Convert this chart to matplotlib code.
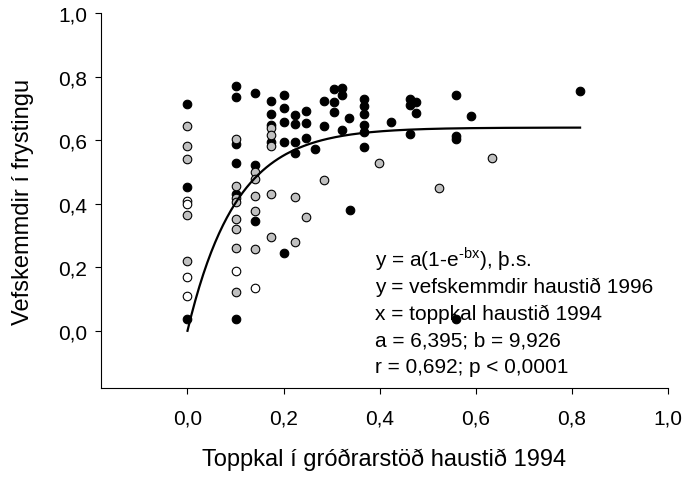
import numpy as np
import matplotlib
matplotlib.use("Agg")
import matplotlib.pyplot as plt

plt.rcParams["font.family"] = ["Liberation Sans", "DejaVu Sans"]
plt.rcParams["mathtext.fontset"] = "custom"
plt.rcParams["mathtext.rm"] = "Liberation Sans"

# black dots
black_x = [0.0, 0.0, 0.0,
           0.1, 0.1, 0.1, 0.1, 0.1, 0.1,
           0.14, 0.14, 0.14,
           0.173, 0.173, 0.173, 0.173,
           0.2, 0.2, 0.2, 0.2, 0.2,
           0.224, 0.224, 0.224, 0.224,
           0.247, 0.247, 0.247,
           0.266,
           0.285, 0.285,
           0.304, 0.304, 0.304,
           0.321, 0.321, 0.321,
           0.336, 0.3375,
           0.368, 0.368, 0.368, 0.368, 0.368, 0.368,
           0.424,
           0.463, 0.463, 0.463,
           0.476, 0.476,
           0.558, 0.558, 0.558, 0.558,
           0.591,
           0.817]
black_y = [0.715, 0.454, 0.036,
           0.770, 0.735, 0.588, 0.528, 0.431, 0.036,
           0.747, 0.522, 0.346,
           0.722, 0.683, 0.649, 0.593,
           0.742, 0.702, 0.656, 0.593, 0.246,
           0.679, 0.650, 0.595, 0.558,
           0.691, 0.653, 0.608,
           0.572,
           0.723, 0.646,
           0.761, 0.721, 0.690,
           0.763, 0.742, 0.633,
           0.670, 0.380,
           0.730, 0.707, 0.683, 0.648, 0.627, 0.578,
           0.656,
           0.730, 0.711, 0.618,
           0.721, 0.685,
           0.742, 0.612, 0.604, 0.038,
           0.675,
           0.754]

# gray dots
gray_x = [0.0, 0.0, 0.0, 0.0, 0.0,
          0.1, 0.1, 0.1, 0.1, 0.1, 0.1, 0.1, 0.1,
          0.14, 0.14, 0.14, 0.14, 0.14,
          0.173, 0.173, 0.173, 0.173, 0.173,
          0.224, 0.224,
          0.247,
          0.285,
          0.398,
          0.524,
          0.633]
gray_y = [0.644, 0.583, 0.541, 0.365, 0.221,
          0.602, 0.455, 0.417, 0.405, 0.352, 0.319, 0.260, 0.122,
          0.499, 0.478, 0.424, 0.377, 0.258,
          0.637, 0.616, 0.580, 0.432, 0.296,
          0.420, 0.279,
          0.357,
          0.473,
          0.528,
          0.449,
          0.544]

# open dots
white_x = [0.0, 0.0, 0.0, 0.0, 0.1, 0.14]
white_y = [0.410, 0.400, 0.169, 0.109, 0.188, 0.135]

# fitted curve y = a(1-exp(-bx))
a = 0.6395
b = 9.926
curve_x = np.linspace(0, 0.817, 200)
curve_y = a * (1 - np.exp(-b * curve_x))

info_lines = ["y = a(1-e$^{\\mathregular{\u2010bx}}$), þ.s.",
              "y = vefskemmdir haustið 1996",
              "x = toppkal haustið 1994",
              "a = 6,395; b = 9,926",
              "r = 0,692; p < 0,0001"]

fig = plt.figure(figsize=(6.87, 4.81), dpi=100)
ax = fig.add_axes([101 / 687, 1 - 389 / 481, 567 / 687, 375 / 481])

ax.scatter(black_x, black_y, s=38, c="black", edgecolors="black", linewidths=0.8, zorder=3)
ax.scatter(gray_x, gray_y, s=38, c="#c0c0c0", edgecolors="black", linewidths=0.8, zorder=3)
ax.scatter(white_x, white_y, s=38, c="white", edgecolors="black", linewidths=0.8, zorder=3)
ax.plot(curve_x, curve_y, color="black", lw=1.6, zorder=4)

ax.set_xlim(-0.18, 1.0)
ax.set_ylim(-0.18, 1.0)
ax.set_xticks([0.0, 0.2, 0.4, 0.6, 0.8, 1.0])
ax.set_yticks([0.0, 0.2, 0.4, 0.6, 0.8, 1.0])
ax.set_xticklabels(["0,0", "0,2", "0,4", "0,6", "0,8", "1,0"])
ax.set_yticklabels(["0,0", "0,2", "0,4", "0,6", "0,8", "1,0"])
ax.tick_params(direction="out", length=4, width=0.8, labelsize=15)
ax.tick_params(axis="x", pad=11)
ax.tick_params(axis="y", pad=6)
ax.spines["top"].set_visible(False)
ax.spines["right"].set_visible(False)
ax.spines["left"].set_linewidth(0.8)
ax.spines["bottom"].set_linewidth(0.8)

ax.set_xlabel("Toppkal í gróðrarstöð haustið 1994", fontsize=17, labelpad=14)
ax.set_ylabel("Vefskemmdir í frystingu", fontsize=17, labelpad=17)

for i, line in enumerate(info_lines):
    ax.text(0.39, 0.205 - i * 0.0835, line, fontsize=15, va="baseline", ha="left", zorder=5)

fig.savefig("out.png", dpi=100)
